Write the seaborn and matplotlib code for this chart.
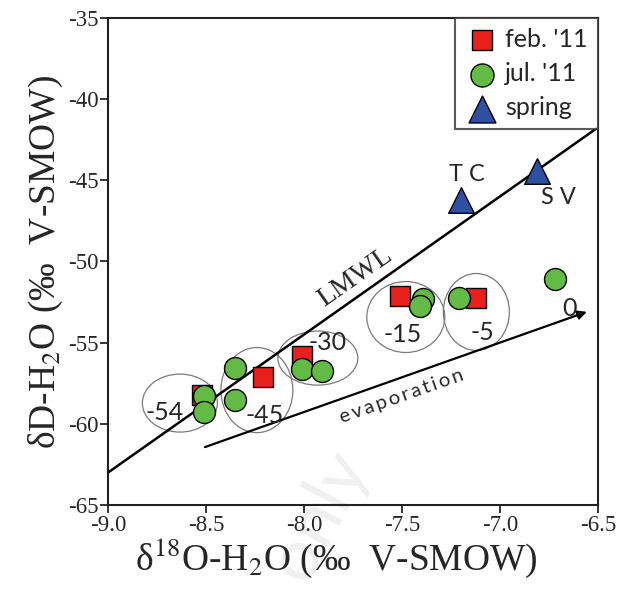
import numpy as np
import pandas as pd
import matplotlib
matplotlib.use("Agg")
import matplotlib.pyplot as plt
from matplotlib.patches import Ellipse
import seaborn as sns

# ---- data ----
feb_x = [-8.52, -8.21, -8.01, -7.51, -7.12]
feb_y = [-58.2, -57.1, -55.8, -52.1, -52.25]
jul_x = [-8.51, -8.51, -8.35, -8.35, -8.01, -7.91, -7.39, -7.41, -7.21, -6.72]
jul_y = [-58.3, -59.25, -56.55, -58.5, -56.65, -56.75, -52.3, -52.75, -52.25, -51.1]
spr_x = [-7.2, -6.81]
spr_y = [-46.2, -44.4]
spr_names = ["T C", "S V"]
groups = ["feb. '11", "jul. '11", "spring"]

# circled groups: label, center x, center y, width, height
grp_labels = ["-54", "-45", "-30", "-15", "-5"]
ell_cx = [-8.633, -8.24, -7.929, -7.48, -7.12]
ell_cy = [-58.72, -57.92, -55.95, -53.42, -53.11]
ell_w = [0.383, 0.367, 0.408, 0.398, 0.337]
ell_h = [3.57, 5.24, 3.33, 4.37, 4.74]
lab_x = [-8.71, -8.20, -7.88, -7.495, -7.09]
lab_y = [-59.3, -59.5, -55.0, -54.5, -54.4]

# LMWL: dD = a * d18O + b
lmwl_a, lmwl_b = 8.5, 13.5
evap_x = [-8.505, -6.556]
evap_y = [-61.43, -53.1]

df = pd.DataFrame({
    "x": feb_x + jul_x + spr_x,
    "y": feb_y + jul_y + spr_y,
    "g": [groups[0]] * len(feb_x) + [groups[1]] * len(jul_x) + [groups[2]] * len(spr_x),
})

sns.set_style("white")
plt.rcParams["font.family"] = ["Lato", "DejaVu Sans"]
plt.rcParams["mathtext.fontset"] = "stix"
plt.rcParams["axes.unicode_minus"] = False

fig = plt.figure(figsize=(6.26, 5.97), dpi=100)
ax = fig.add_axes([0.1725, 0.154, 0.7825, 0.816])

palette = {groups[0]: "#e8211d", groups[1]: "#63bb45", groups[2]: "#2f4fa2"}
markers = {groups[0]: "s", groups[1]: "o", groups[2]: "^"}
sizes = {groups[0]: 200, groups[1]: 250, groups[2]: 340}

for g in groups:
    sub = df[df.g == g]
    sns.scatterplot(data=sub, x="x", y="y", color=palette[g], marker=markers[g],
                    s=sizes[g], edgecolor="black", linewidth=1.0, ax=ax,
                    label=g, zorder=5)

# LMWL
lx = np.array([-9.0, -6.5])
ax.plot(lx, lmwl_a * lx + lmwl_b, color="black", lw=1.8, zorder=3)
ax.text(-7.74, -51.0, "LMWL", rotation=35, ha="center", va="center",
        fontsize=20, family="Liberation Serif", rotation_mode="anchor")

# evaporation arrow
ax.annotate("", xy=(evap_x[1], evap_y[1]), xytext=(evap_x[0], evap_y[0]),
            arrowprops=dict(arrowstyle="-|>", color="black", lw=1.6,
                            mutation_scale=13, shrinkA=0, shrinkB=0), zorder=3)
ax.text(-7.5, -58.3, "\u2009".join("evaporation"), rotation=19.5, ha="center", va="center",
        fontsize=14.5, rotation_mode="anchor")

# ellipses and labels
for cx, cy, w, h in zip(ell_cx, ell_cy, ell_w, ell_h):
    ax.add_patch(Ellipse((cx, cy), w, h, fill=False, edgecolor="#7a7a7a", lw=0.9, zorder=2))
for t, tx, ty in zip(grp_labels, lab_x, lab_y):
    ax.text(tx, ty, t, ha="center", va="center", fontsize=18, zorder=6)
ax.text(-6.643, -52.87, "0", ha="center", va="center", fontsize=18, zorder=6)
ax.text(-7.17, -44.67, spr_names[0], ha="center", va="center", fontsize=17)
ax.text(-6.70, -46.03, spr_names[1], ha="center", va="center", fontsize=17)

# watermark (behind everything)
ax.text(0.43, -0.02, "only", transform=ax.transAxes, rotation=62, fontsize=52,
        color="#f0f0f0", ha="center", va="center", zorder=0, clip_on=False)

ax.set_xlim(-9.0, -6.5)
ax.set_ylim(-65, -35)
ax.set_xticks([-9.0, -8.5, -8.0, -7.5, -7.0, -6.5])
ax.set_xticklabels(["-9.0", "-8.5", "-8.0", "-7.5", "-7.0", "-6.5"])
ax.set_yticks([-65, -60, -55, -50, -45, -40, -35])
ax.tick_params(axis="both", direction="out", length=6, width=1.3, labelsize=16.5,
               bottom=True, left=True, top=False, right=False, pad=1)
for lab in ax.get_xticklabels() + ax.get_yticklabels():
    lab.set_family("Liberation Serif")
for s in ax.spines.values():
    s.set_color("#222222")
    s.set_linewidth(1.5)

ax.set_xlabel(r"δ$^{18}$O-H$_2$O (‰  V-SMOW)", fontsize=27, family="Liberation Serif", labelpad=0)
ax.xaxis.label.set_x(0.467)
ax.set_ylabel(r"δD-H$_2$O (‰  V-SMOW)", fontsize=27, family="Liberation Serif", labelpad=2)

leg = ax.legend(loc="upper right", frameon=True, fontsize=18, borderaxespad=0.0,
                fancybox=False, handletextpad=0.3, labelspacing=0.45, borderpad=0.4,
                handlelength=1.3, markerscale=1.05)
leg.get_frame().set_edgecolor("#333333")
leg.get_frame().set_linewidth(1.5)
leg.set_zorder(10)

fig.savefig("out.png", dpi=100, facecolor="white")
